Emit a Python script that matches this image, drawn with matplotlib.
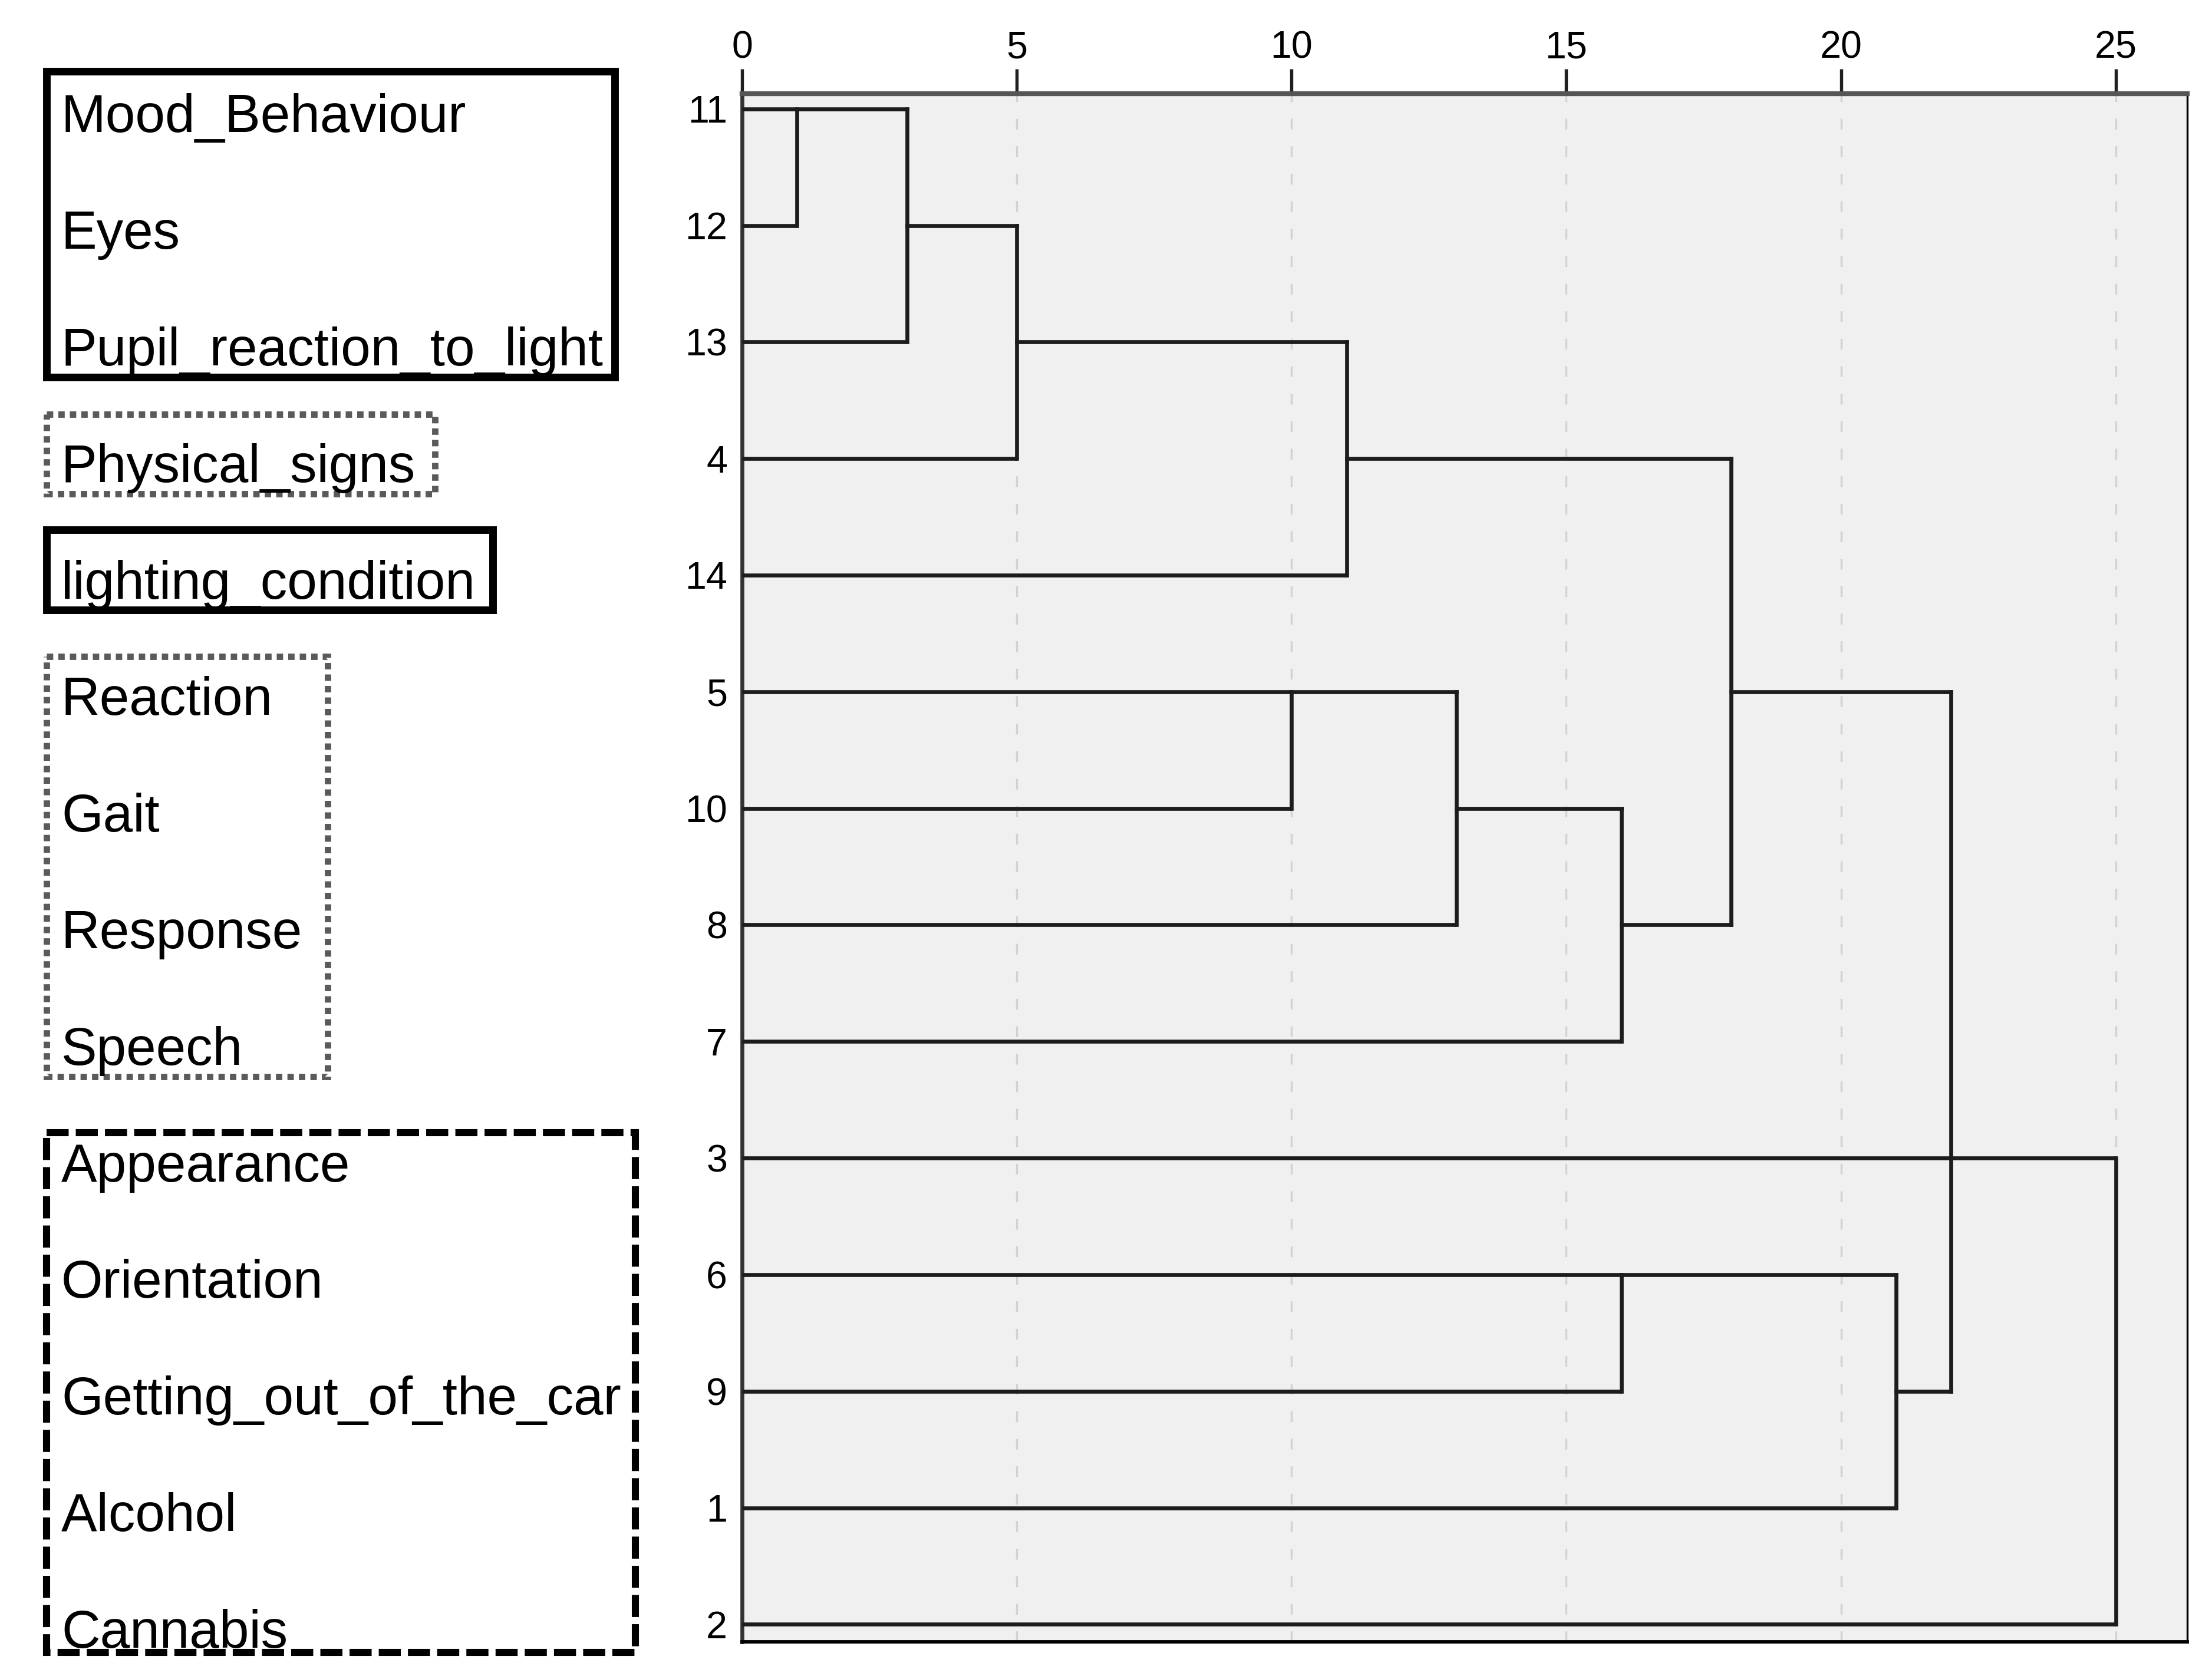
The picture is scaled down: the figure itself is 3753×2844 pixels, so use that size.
import matplotlib
matplotlib.use("Agg")
import matplotlib.pyplot as plt
from matplotlib.patches import Rectangle

plt.rcParams['font.family'] = ['Liberation Sans', 'DejaVu Sans']

# rows from top to bottom
row_labels = ['11', '12', '13', '4', '14', '5', '10', '8', '7', '3', '6', '9', '1', '2']
var_names = ['Mood_Behaviour', 'Eyes', 'Pupil_reaction_to_light', 'Physical_signs',
             'lighting_condition', 'Reaction', 'Gait', 'Response', 'Speech',
             'Appearance', 'Orientation', 'Getting_out_of_the_car', 'Alcohol', 'Cannabis']

# merges: rescaled distance, vertical from top row to bottom row,
# row that carries the joined branch onward, and distance where it goes next
link_height = [1, 3, 5, 11, 10, 13, 16, 18, 16, 21, 22, 25]
link_top = [0, 0, 1, 2, 5, 5, 6, 3, 10, 10, 5, 9]
link_bottom = [1, 2, 3, 4, 6, 7, 8, 7, 11, 12, 11, 13]
link_row = [0, 1, 2, 3, 5, 6, 7, 5, 10, 11, None, None]
link_next = [3, 5, 11, 18, 13, 16, 18, 22, 21, 22, None, None]

xticks = [0, 5, 10, 15, 20, 25]

# label groups: first row, last row, box style
group_first = [0, 3, 4, 5, 9]
group_last = [2, 3, 4, 8, 13]
group_style = ['solid', 'dotted', 'solid', 'dotted', 'dashed']
group_right = [1043, 738, 836, 556, 1078]  # right edge, pixels of the left panel

W, H = 3753, 2844
fig = plt.figure(figsize=(W / 300, H / 300), dpi=300)
ax = fig.add_axes([1259 / W, 1 - 2786 / H, (3711 - 1259) / W, (2786 - 159) / H])
lax = fig.add_axes([0, 1 - 2786 / H, 1259 / W, (2786 - 159) / H])

ax.set_facecolor('#f0f0f0')
ax.set_xlim(0, 26.3)
ax.set_ylim(13.15, -0.13)

for x in xticks[1:]:
    ax.axvline(x, color='#d2d2d2', lw=0.8, linestyle=(0, (5.5, 8.5)), zorder=1)

lc = '#1c1c1c'
lw = 1.6
# leaves
for i in range(len(row_labels)):
    h = min(link_height[k] for k in range(len(link_height)) if i in (link_top[k], link_bottom[k]))
    ax.plot([0, h], [i, i], color=lc, lw=lw, solid_capstyle='butt', zorder=3)
# merges
for k in range(len(link_height)):
    ax.plot([link_height[k], link_height[k]], [link_top[k], link_bottom[k]], color=lc, lw=lw,
            solid_capstyle='projecting', zorder=3)
    if link_row[k] is not None:
        ax.plot([link_height[k], link_next[k]], [link_row[k], link_row[k]], color=lc, lw=lw,
                solid_capstyle='projecting', zorder=3)

tick_font = ['Liberation Sans Narrow', 'Liberation Sans', 'DejaVu Sans']
ax.xaxis.tick_top()
ax.set_xticks(xticks)
ax.set_xticklabels([str(t) for t in xticks], fontsize=15.5, family=tick_font)
ax.tick_params(axis='x', length=10, width=1.3, pad=1.5, color='#202020')
ax.set_yticks(range(len(row_labels)))
ax.set_yticklabels(row_labels, fontsize=15.5, family=tick_font)
ax.tick_params(axis='y', length=0, pad=6)

ax.spines['top'].set_color('#555555')
ax.spines['top'].set_linewidth(2.0)
ax.spines['left'].set_color('#333333')
ax.spines['left'].set_linewidth(1.6)
ax.spines['bottom'].set_color('black')
ax.spines['bottom'].set_linewidth(1.4)
ax.spines['right'].set_color('black')
ax.spines['right'].set_linewidth(0.8)

# left panel with variable names
lax.set_xlim(0, 1259)
lax.set_ylim(13.15, -0.13)
lax.axis('off')

top_pad = {'solid': 0.32, 'dotted': 0.38, 'dashed': 0.22}
for a, b, style, right in zip(group_first, group_last, group_style, group_right):
    top = a - top_pad[style]
    if style == 'solid' and a > 0:
        top = a - 0.39
    if style == 'dotted' and b > a:
        top = a - 0.30
    bottom = b + 0.30
    if style == 'solid':
        kw = dict(edgecolor='black', linewidth=3.1, linestyle='solid')
    elif style == 'dotted':
        kw = dict(edgecolor='#5a5a5a', linewidth=2.6, linestyle=(0, (1.0, 0.8)))
    else:
        kw = dict(edgecolor='black', linewidth=2.9, linestyle=(0, (3.1, 1.0)))
        bottom = b + 0.24
    lax.add_patch(Rectangle((79, top), right - 79, bottom - top, facecolor='none',
                            clip_on=False, joinstyle='miter', **kw))

for i, name in enumerate(var_names):
    lax.text(104, i + 0.2, name, fontsize=21.8, va='baseline', ha='left', color='black')

fig.savefig('out.png', dpi=300)
